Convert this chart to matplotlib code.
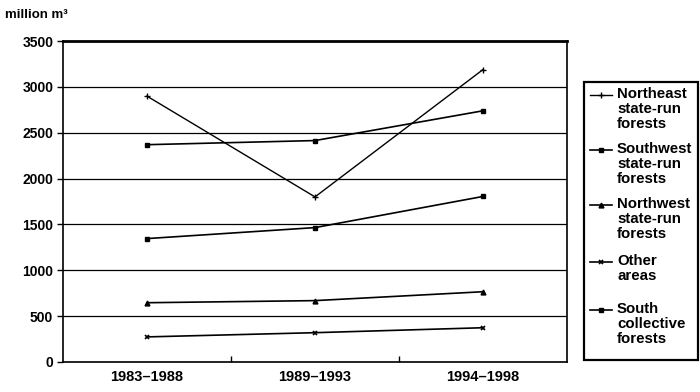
import matplotlib.pyplot as plt
import matplotlib as mpl
from matplotlib.lines import Line2D
from matplotlib.patches import Rectangle
from matplotlib.ticker import FixedLocator

# Data
periods = ['1983\u20131988', '1989\u20131993', '1994\u20131998']
northeast = [2900, 1800, 3190]
southwest = [2370, 2415, 2740]
south_collective = [1345, 1465, 1805]
northwest = [645, 668, 765]
other_areas = [272, 318, 372]

font = {'family': ['Liberation Sans', 'DejaVu Sans'],
        'weight': 'bold',
        'size': 10}
mpl.rc('font', **font)

W, H = 700, 392
fig = plt.figure(figsize=(W / 100, H / 100), dpi=100)
ax = fig.add_axes([0.09, 0.077, 0.72, 0.818])

x = range(len(periods))
styles = {
    'ne': dict(color='black', lw=1, marker='+', ms=4, mew=1),
    'sw': dict(color='black', lw=1.2, marker='s', ms=3.5),
    'nw': dict(color='black', lw=1.2, marker='^', ms=3.5),
    'oa': dict(color='black', lw=1.2, marker='x', ms=3.5, mew=1.2),
    'sc': dict(color='black', lw=1.2, marker='s', ms=3.5),
}
ax.plot(x, northeast, **styles['ne'])
ax.plot(x, southwest, **styles['sw'])
ax.plot(x, northwest, **styles['nw'])
ax.plot(x, other_areas, **styles['oa'])
ax.plot(x, south_collective, **styles['sc'])

ax.set_xlim(-0.5, 2.5)
ax.set_ylim(0, 3500)
ax.set_yticks(range(0, 3501, 500))
ax.set_xticks(list(x))
ax.set_xticklabels(periods, fontsize=10.5)
ax.xaxis.set_minor_locator(FixedLocator([0.5, 1.5]))
ax.tick_params(axis='x', which='major', length=0, pad=6)
ax.tick_params(axis='x', which='minor', length=4, direction='in', width=1)
ax.tick_params(axis='y', length=4, width=1, pad=3)

ax.grid(axis='y', color='black', linewidth=0.9)
ax.set_axisbelow(True)
for side in ['left', 'bottom', 'right']:
    ax.spines[side].set_linewidth(1.2)
ax.spines['top'].set_linewidth(2)

fig.text(5 / W, 1 - 15 / H, 'million m\u00b3', fontsize=9.5, ha='left', va='center')

# hand-built legend box (handle sits on the first text line)
fig.add_artist(Rectangle((584 / W, 1 - 360 / H), 114 / W, 278 / H,
                         transform=fig.transFigure, fill=False,
                         edgecolor='black', lw=1.6))
entries = [('Northeast\nstate-run\nforests', 'ne', 95),
           ('Southwest\nstate-run\nforests', 'sw', 150),
           ('Northwest\nstate-run\nforests', 'nw', 205),
           ('Other\nareas', 'oa', 262),
           ('South\ncollective\nforests', 'sc', 310)]
for label, key, ypx in entries:
    st = dict(styles[key])
    st['markevery'] = [1]
    fig.add_artist(Line2D([590 / W, 601 / W, 612 / W], [1 - ypx / H] * 3,
                          transform=fig.transFigure, **st))
    fig.text(617 / W, 1 - (ypx - 8) / H, label, ha='left', va='top',
             linespacing=1.07, fontsize=10.8)

plt.savefig('out.png', dpi=100)
plt.close()
